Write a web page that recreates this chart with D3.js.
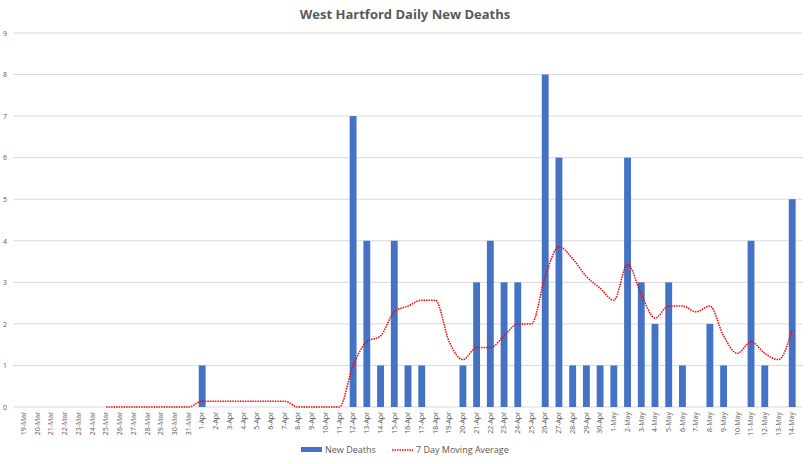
<!DOCTYPE html>
<html>
<head>
<meta charset="UTF-8">
<title>West Hartford Daily New Deaths</title>
<script src="https://d3js.org/d3.v7.min.js"></script>
<style>
  body { margin: 0; background: #fff; }
  text { font-family: "Open Sans", "Liberation Sans", sans-serif; fill: #595959; }
</style>
</head>
<body>
<div id="chart"></div>
<script>
// day labels, 19-Mar .. 14-May
var days = [
  "19-Mar","20-Mar","21-Mar","22-Mar","23-Mar","24-Mar","25-Mar","26-Mar","27-Mar","28-Mar",
  "29-Mar","30-Mar","31-Mar","1-Apr","2-Apr","3-Apr","4-Apr","5-Apr","6-Apr","7-Apr",
  "8-Apr","9-Apr","10-Apr","11-Apr","12-Apr","13-Apr","14-Apr","15-Apr","16-Apr","17-Apr",
  "18-Apr","19-Apr","20-Apr","21-Apr","22-Apr","23-Apr","24-Apr","25-Apr","26-Apr","27-Apr",
  "28-Apr","29-Apr","30-Apr","1-May","2-May","3-May","4-May","5-May","6-May","7-May",
  "8-May","9-May","10-May","11-May","12-May","13-May","14-May"
];
var newDeaths = [
  0,0,0,0,0,0,0,0,0,0,
  0,0,0,1,0,0,0,0,0,0,
  0,0,0,0,7,4,1,4,1,1,
  0,0,1,3,4,3,3,0,8,6,
  1,1,1,1,6,3,2,3,1,0,
  2,1,0,4,1,0,5
];
var movingAvg = [
  null,null,null,null,null,null,0,0,0,0,
  0,0,0,0.14,0.14,0.14,0.14,0.14,0.14,0.14,
  0,0,0,0,1.0,1.57,1.71,2.29,2.43,2.57,
  2.57,1.57,1.14,1.43,1.43,1.71,2.0,2.0,3.14,3.86,
  3.57,3.14,2.86,2.57,3.43,2.71,2.14,2.43,2.43,2.29,
  2.43,1.71,1.29,1.57,1.29,1.14,1.86
];
var yTicks = [0,1,2,3,4,5,6,7,8,9];

var width = 810, height = 464;
var margin = {top: 33, right: 7.5, bottom: 57, left: 13.5};

var svg = d3.select("#chart").append("svg")
  .attr("width", width)
  .attr("height", height);

var x = d3.scaleBand()
  .domain(days)
  .range([margin.left, width - margin.right])
  .padding(0.5);

var y = d3.scaleLinear()
  .domain([0, 9])
  .range([height - margin.bottom, margin.top]);

// gridlines
svg.append("g")
  .selectAll("line")
  .data(yTicks)
  .enter()
  .append("line")
  .attr("x1", margin.left)
  .attr("x2", width - margin.right)
  .attr("y1", function(d) { return y(d); })
  .attr("y2", function(d) { return y(d); })
  .attr("stroke", "#d9d9d9")
  .attr("stroke-width", 1);

// y axis labels
var yAxis = d3.axisLeft(y).tickValues(yTicks).tickSize(0).tickPadding(0);
svg.append("g")
  .attr("transform", "translate(7,0)")
  .call(yAxis)
  .call(function(g) { g.select(".domain").remove(); })
  .selectAll("text")
  .style("font-size", "7px")
  .style("fill", "#595959");

// x axis labels
var xAxis = d3.axisBottom(x).tickSize(0).tickPadding(0);
svg.append("g")
  .attr("transform", "translate(0," + (height - margin.bottom) + ")")
  .call(xAxis)
  .call(function(g) { g.select(".domain").remove(); })
  .selectAll("text")
  .attr("transform", "rotate(-90)")
  .attr("x", -5)
  .attr("y", 0)
  .attr("dy", "0.32em")
  .style("text-anchor", "end")
  .style("font-size", "7px")
  .style("fill", "#595959");

// bars
svg.append("g")
  .selectAll(".bar")
  .data(newDeaths)
  .enter()
  .append("rect")
  .attr("class", "bar")
  .attr("x", function(d, i) { return x(days[i]); })
  .attr("y", function(d) { return y(d); })
  .attr("width", x.bandwidth())
  .attr("height", function(d) { return y(0) - y(d); })
  .attr("fill", "#4472c4");

// moving average line
var line = d3.line()
  .defined(function(d) { return d !== null; })
  .x(function(d, i) { return x(days[i]) + x.bandwidth() / 2; })
  .y(function(d) { return y(d); })
  .curve(d3.curveMonotoneX);

svg.append("path")
  .datum(movingAvg)
  .attr("d", line)
  .attr("fill", "none")
  .attr("stroke", "#ff0000")
  .attr("stroke-width", 1.5)
  .attr("stroke-dasharray", "1.5,1");

// title
svg.append("text")
  .attr("x", width / 2)
  .attr("y", 19)
  .style("text-anchor", "middle")
  .style("font-size", "13px")
  .style("font-weight", "bold")
  .text("West Hartford Daily New Deaths");

// legend
var legend = svg.append("g").attr("transform", "translate(0,450)");
legend.append("rect")
  .attr("x", 301)
  .attr("y", -3)
  .attr("width", 21)
  .attr("height", 5)
  .attr("fill", "#4472c4");
legend.append("text")
  .attr("x", 325)
  .attr("y", 0)
  .attr("dy", "0.35em")
  .style("font-size", "9px")
  .text("New Deaths");
legend.append("line")
  .attr("x1", 392)
  .attr("x2", 413)
  .attr("y1", 0)
  .attr("y2", 0)
  .attr("stroke", "#ff0000")
  .attr("stroke-width", 1.5)
  .attr("stroke-dasharray", "1.5,1");
legend.append("text")
  .attr("x", 416)
  .attr("y", 0)
  .attr("dy", "0.35em")
  .style("font-size", "9px")
  .text("7 Day Moving Average");
</script>
</body>
</html>
